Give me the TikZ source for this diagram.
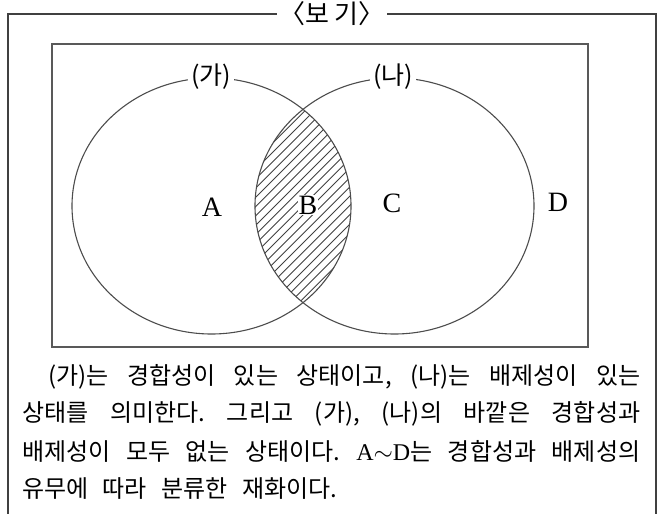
\documentclass[tikz,border=0pt]{standalone}
\usepackage{fontspec}
\setmainfont{Liberation Serif}
\newfontfamily\kr{Noto Sans CJK KR}
\usetikzlibrary{positioning}

\tikzset{
  frameline/.style={draw=black!75, line width=1.2pt},
  venn/.style={draw=black!70, line width=1.1pt},
  hatch/.style={draw=black!75, line width=0.9pt},
  setlabel/.style={fill=white, inner sep=3pt, font=\kr\fontsize{25}{25}\selectfont},
  region/.style={inner sep=1pt, font=\fontsize{28}{28}\selectfont},
  textline/.style={anchor=west, inner sep=0pt, font=\kr\fontsize{24}{24}\selectfont}
}

\begin{document}
\frenchspacing
\begin{tikzpicture}[x=1pt, y=-1pt]
\useasboundingbox (0,0) rectangle (664,514);

% Outer frame with title
\draw[frameline] (8,514) -- (8,14) -- (656,14) -- (656,514);
\node[fill=white, inner sep=2pt, font=\kr\fontsize{26}{26}\selectfont] (title) at (332,14) {〈보 기〉};

% Universe
\draw[frameline, draw=black!65, line width=1.5pt] (52,44) rectangle (588,347);

% Hatched intersection
\begin{scope}
  \clip (211.5,206) ellipse [x radius=139.5, y radius=128];
  \clip (394.5,206) ellipse [x radius=139.5, y radius=128];
  \foreach \s in {0,...,36}
    \draw[hatch] (20+9.3*\s, 340) -- ++(260,-260);
\end{scope}

% Sets
\draw[venn] (211.5,206) ellipse [x radius=139.5, y radius=128];
\draw[venn] (394.5,206) ellipse [x radius=139.5, y radius=128];
\node[setlabel] (ga) at (211,77) {(가)};
\node[setlabel] (na) at (393,77) {(나)};

% Regions
\node[region] (A) at (212,207) {A};
\node[region, fill=white] (B) at (308,205) {B};
\node[region] (C) at (392,203) {C};
\node[region] (D) at (558,202) {D};

% Explanation
\node[textline] (line1) at (48,377) {\makebox[592pt][s]{(가)는 경합성이 있는 상태이고, (나)는 배제성이 있는}};
\node[textline] (line2) at (22,414) {\makebox[618pt][s]{상태를 의미한다. 그리고 (가), (나)의 바깥은 경합성과}};
\node[textline] (line3) at (22,451) {\makebox[618pt][s]{배제성이 모두 없는 상태이다. {\rmfamily A$\sim$D}는 경합성과 배제성의}};
\node[textline] (line4) at (22,489) {\spaceskip=0.6em 유무에 따라 분류한 재화이다.};
\end{tikzpicture}
\end{document}
